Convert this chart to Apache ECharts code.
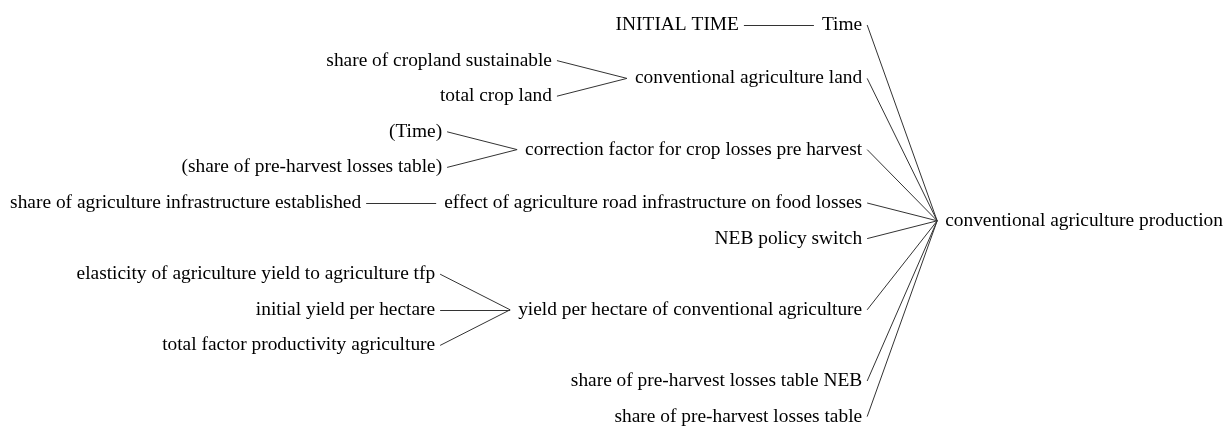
<!DOCTYPE html>
<html><head><meta charset="utf-8">
<script src="https://cdn.jsdelivr.net/npm/echarts@6/dist/echarts.min.js"></script>
<style>html,body{margin:0;padding:0;background:#fff}#c{width:1226px;height:428px}</style>
</head><body><div id="c"></div><script>
// ---- data (causes tree) ----
const rootName = 'conventional agriculture production';
const causes = [
  'Time',
  'conventional agriculture land',
  'correction factor for crop losses pre harvest',
  'effect of agriculture road infrastructure on food losses',
  'NEB policy switch',
  'yield per hectare of conventional agriculture',
  'share of pre-harvest losses table NEB',
  'share of pre-harvest losses table'
];
const subCauses = [
  ['INITIAL TIME'],
  ['share of cropland sustainable', 'total crop land'],
  ['(Time)', '(share of pre-harvest losses table)'],
  ['share of agriculture infrastructure established'],
  [],
  ['elasticity of agriculture yield to agriculture tfp', 'initial yield per hectare', 'total factor productivity agriculture'],
  [],
  []
];

// ---- style / layout constants ----
const FONT_SIZE = 19.4, FONT_FAMILY = 'Liberation Serif';
const FONT = FONT_SIZE + 'px ' + FONT_FAMILY;
const W = 1226, H = 428;
const ROW_TOP = 25, ROW_GAP = 35.6;
const RIGHT_PAD = 3, GAP_IN = 8, SPAN = 70, GAP_OUT = 5;
const LINE_COLOR = '#333', TEXT_COLOR = '#000';

const ctx = document.createElement('canvas').getContext('2d');
ctx.font = FONT;
const tw = s => ctx.measureText(s).width;

// rows from tree structure
let row = 0;
const causeRows = [], subRows = [];
causes.forEach((c, i) => {
  const subs = subCauses[i];
  if (subs.length) {
    const r = subs.map(() => row++);
    subRows.push(r);
    causeRows.push((r[0] + r[r.length - 1]) / 2);
  } else {
    subRows.push([]);
    causeRows.push(row++);
  }
});
const rootRow = (causeRows[0] + causeRows[causeRows.length - 1]) / 2;

// horizontal layout from text widths
const rootLeft = W - RIGHT_PAD - tw(rootName);
const rootJoin = rootLeft - GAP_IN;
const causeRight = rootJoin - SPAN - GAP_OUT;

const labels = [];
const links = [];
labels.push({ name: rootName, value: [rootLeft, rootRow], align: 'left' });
causes.forEach((c, i) => {
  labels.push({ name: c, value: [causeRight, causeRows[i]], align: 'right' });
  links.push({ coords: [[causeRight + GAP_OUT, causeRows[i]], [rootJoin, rootRow]] });
  const join = causeRight - tw(c) - GAP_IN;
  const subRight = join - SPAN - GAP_OUT;
  subCauses[i].forEach((s, j) => {
    labels.push({ name: s, value: [subRight, subRows[i][j]], align: 'right' });
    links.push({ coords: [[subRight + GAP_OUT, subRows[i][j]], [join, causeRows[i]]] });
  });
});

const chart = echarts.init(document.getElementById('c'), null, { renderer: 'canvas' });
chart.setOption({
  animation: false,
  backgroundColor: '#fff',
  grid: { left: 0, right: 0, top: 0, bottom: 0 },
  xAxis: { type: 'value', min: 0, max: W, show: false },
  yAxis: { type: 'value', min: -ROW_TOP / ROW_GAP, max: (H - ROW_TOP) / ROW_GAP, inverse: true, show: false },
  series: [
    {
      type: 'lines', coordinateSystem: 'cartesian2d', silent: true,
      lineStyle: { color: LINE_COLOR, width: 1, opacity: 1 },
      data: links
    },
    {
      type: 'custom', coordinateSystem: 'cartesian2d', silent: true,
      data: labels.map(l => ({ name: l.name, value: l.value })),
      renderItem: (params, api) => {
        const d = labels[params.dataIndex];
        const p = api.coord([api.value(0), api.value(1)]);
        return {
          type: 'text', x: p[0], y: p[1], silent: true,
          style: { text: d.name, font: FONT, fill: TEXT_COLOR, align: d.align, verticalAlign: 'middle' }
        };
      }
    }
  ]
});
</script></body></html>
